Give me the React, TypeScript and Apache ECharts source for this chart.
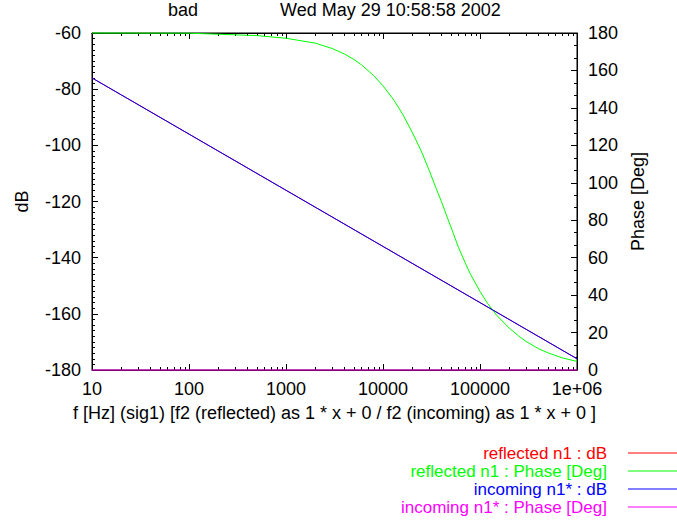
import React, { useEffect, useRef } from "react";
import * as echarts from "echarts";

// ---- data ----
const dbFreq = [10, 100, 1000, 10000, 100000, 1000000];
const reflectedDb = [-76, -96, -116, -136, -156, -176];
const incomingDb = [-76, -96, -116, -136, -156, -176];

const phaseFreq = [
  10, 100, 500, 1000, 2000, 3000, 4000, 5000, 6000, 8000, 10000, 13000, 16000,
  20000, 25000, 30000, 35000, 40000, 45000, 50000, 60000, 70000, 80000, 100000,
  120000, 150000, 200000, 250000, 300000, 400000, 500000, 700000, 1000000,
];
const reflectedPhase = [
  180, 179.9, 178.6, 177.2, 174.6, 171.7, 168.8, 165.9, 163, 157.3, 151.8, 144, 136.5,
  127, 116.5, 106.5, 97.5, 90, 82.8, 76.5, 65.5, 57.5, 51, 42,
  35.5, 29, 22.4, 18.2, 15.2, 11.4, 9.2, 6.5, 4.6,
];
const incomingPhaseFreq = [10, 1000000];
const incomingPhase = [0, 0];

const decades = [10, 100, 1000, 10000, 100000];
const minorMultipliers = [2, 3, 4, 5, 6, 7, 8, 9];
const xTickLabels: Record<number, string> = {
  10: "10",
  100: "100",
  1000: "1000",
  10000: "10000",
  100000: "100000",
  1000000: "1e+06",
};

const seriesNames = [
  "reflected n1 : dB",
  "reflected n1 : Phase [Deg]",
  "incoming n1* : dB",
  "incoming n1* : Phase [Deg]",
];
const seriesColors = ["#ff0000", "#00ff00", "#0000ff", "#ff00ff"];

const FONT = "'Liberation Sans', Arial, Helvetica, sans-serif";
const FS = 18;

export default function App() {
  const ref = useRef<HTMLDivElement>(null);
  useEffect(() => {
    if (!ref.current) return;
    const chart = echarts.init(ref.current, undefined, { renderer: "svg" });
    const minorTicks: number[][] = [];
    decades.forEach((d) => minorMultipliers.forEach((m) => minorTicks.push([d * m, -180])));

    const zip = (xs: number[], ys: number[]) => xs.map((x, i) => [x, ys[i]]);
    const lineSeries = (idx: number, data: number[][], yIdx: number, z: number) => ({
      type: "line",
      name: seriesNames[idx],
      data,
      xAxisIndex: 0,
      yAxisIndex: yIdx,
      showSymbol: false,
      symbol: "none",
      smooth: false,
      clip: false,
      z,
      color: seriesColors[idx],
      itemStyle: { color: seriesColors[idx] },
      lineStyle: { width: 1, color: seriesColors[idx] },
      emphasis: { disabled: true },
    });

    const axisText = { color: "#000", fontSize: FS, fontFamily: FONT, lineHeight: 18 };

    chart.setOption({
      animation: false,
      backgroundColor: "#fff",
      textStyle: { fontFamily: FONT },
      title: [
        {
          text: "bad",
          left: 168,
          top: 1,
          padding: 0,
          textStyle: { ...axisText, fontWeight: "normal" },
        },
        {
          text: "Wed May 29 10:58:58 2002",
          left: 280,
          top: 1,
          padding: 0,
          textStyle: { ...axisText, fontWeight: "normal" },
        },
      ],
      grid: {
        left: 92,
        right: 100,
        top: 33,
        bottom: 152,
        show: true,
        borderColor: "#000",
        borderWidth: 1,
        backgroundColor: "transparent",
      },
      legend: {
        orient: "vertical",
        right: 0,
        top: 444,
        align: "right",
        icon: "rect",
        itemWidth: 49,
        itemHeight: 1,
        itemGap: 0,
        padding: 0,
        selectedMode: false,
        textStyle: { fontSize: 17, fontFamily: FONT, lineHeight: 18, padding: [0, 16, 0, 0] },
        data: seriesNames.map((n, i) => ({
          name: n,
          itemStyle: { color: seriesColors[i] },
          textStyle: { color: seriesColors[i] },
        })),
      },
      xAxis: [
        {
          type: "log",
          logBase: 10,
          min: 10,
          max: 1000000,
          gridIndex: 0,
          position: "bottom",
          name: "f [Hz] (sig1) [f2 (reflected) as 1 * x + 0 / f2 (incoming) as 1 * x + 0 ]",
          nameLocation: "middle",
          nameGap: 34,
          nameTextStyle: axisText,
          axisLine: { show: true, lineStyle: { color: "#000", width: 1 } },
          axisTick: { show: true, inside: true, length: 6, lineStyle: { color: "#000" } },
          axisLabel: {
            ...axisText,
            lineHeight: 16,
            margin: 11,
            formatter: (v: number) => xTickLabels[Math.round(v)] ?? String(v),
          },
          splitLine: { show: false },
        },
        {
          type: "log",
          logBase: 10,
          min: 10,
          max: 1000000,
          gridIndex: 0,
          position: "top",
          axisLine: { show: true, lineStyle: { color: "#000", width: 1 } },
          axisTick: { show: true, inside: true, length: 6, lineStyle: { color: "#000" } },
          axisLabel: { show: false },
          splitLine: { show: false },
        },
      ],
      yAxis: [
        {
          type: "value",
          min: -180,
          max: -60,
          interval: 20,
          position: "left",
          name: "dB",
          nameLocation: "middle",
          nameRotate: 90,
          nameGap: 61,
          nameTextStyle: axisText,
          axisLine: { show: true, lineStyle: { color: "#000", width: 1 } },
          axisTick: { show: true, inside: true, length: 6, lineStyle: { color: "#000" } },
          minorTick: { show: true, splitNumber: 10, length: 3, lineStyle: { color: "#000" } },
          axisLabel: { ...axisText, lineHeight: 16, margin: 11 },
          splitLine: { show: false },
        },
        {
          type: "value",
          min: 0,
          max: 180,
          interval: 20,
          position: "right",
          name: "Phase [Deg]",
          nameLocation: "middle",
          nameRotate: 90,
          nameGap: 50,
          nameTextStyle: axisText,
          axisLine: { show: true, lineStyle: { color: "#000", width: 1 } },
          axisTick: { show: true, inside: true, length: 6, lineStyle: { color: "#000" } },
          minorTick: { show: true, splitNumber: 3, length: 3, lineStyle: { color: "#000" } },
          axisLabel: { ...axisText, lineHeight: 16, margin: 11 },
          splitLine: { show: false },
        },
      ],
      series: [
        {
          type: "custom",
          name: "minorTicks",
          xAxisIndex: 0,
          yAxisIndex: 0,
          silent: true,
          z: 1,
          data: minorTicks,
          renderItem: (_p: any, api: any) => {
            const f = api.value(0);
            const b = api.coord([f, -180]);
            const t = api.coord([f, -60]);
            const x = Math.round(b[0]) + 0.5;
            return {
              type: "group",
              children: [
                {
                  type: "line",
                  shape: { x1: x, y1: b[1], x2: x, y2: b[1] - 3 },
                  style: { stroke: "#000", lineWidth: 1 },
                },
                {
                  type: "line",
                  shape: { x1: x, y1: t[1], x2: x, y2: t[1] + 3 },
                  style: { stroke: "#000", lineWidth: 1 },
                },
              ],
            };
          },
        },
        lineSeries(0, zip(dbFreq, reflectedDb), 0, 3),
        lineSeries(1, zip(phaseFreq, reflectedPhase), 1, 4),
        lineSeries(2, zip(dbFreq, incomingDb), 0, 5),
        lineSeries(3, zip(incomingPhaseFreq, incomingPhase), 1, 6),
      ],
    });
    return () => chart.dispose();
  }, []);
  return (
    <div
      ref={ref}
      style={{ position: "fixed", left: 0, top: 0, width: 677, height: 522, background: "#fff" }}
    />
  );
}
